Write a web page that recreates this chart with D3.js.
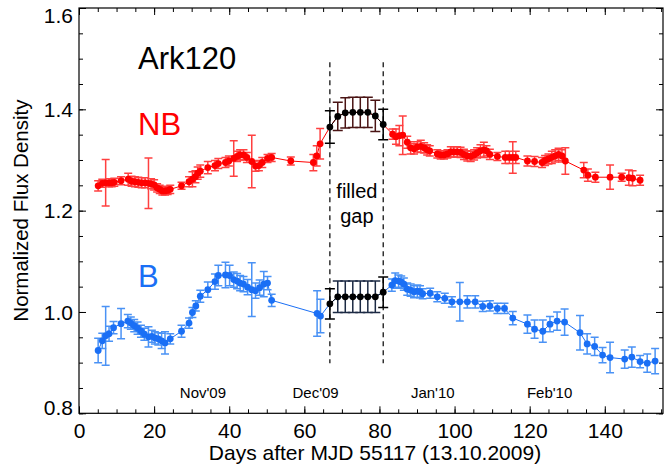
<!DOCTYPE html>
<html>
<head>
<meta charset="utf-8">
<script src="https://cdn.jsdelivr.net/npm/d3@7"></script>
<style>
  body { margin: 0; background: #fff; }
  text { font-family: "Liberation Sans", Arial, sans-serif; }
</style>
</head>
<body>
<svg id="chart" width="667" height="470"></svg>
<script>
// NB band light curve (days, flux, error)
var nbDays = [5.1, 6.2, 7.1, 8.0, 8.7, 9.4, 11.2, 13.1, 14.0, 14.9, 15.8, 16.7, 17.6, 18.5, 19.2, 20.0, 20.8, 21.5, 22.2, 22.9, 23.6, 24.3,
  27.3, 29.3, 30.2, 31.0, 31.6, 32.3, 34.3, 36.2, 37.1, 39.0, 39.9, 41.2, 42.1, 42.9, 43.8, 44.7, 46.0, 47.0, 47.9, 48.8, 50.2, 51.3,
  56.4, 62.4, 63.3, 64.2,
  83.5, 84.4, 85.3, 86.2, 87.4, 88.3, 89.2, 90.1, 91.0, 91.9, 92.7, 93.4, 95.4, 96.3, 97.2, 98.1, 99.0, 99.8, 100.7, 101.6, 102.5,
  103.4, 104.3, 105.2, 106.0, 106.9, 107.8, 108.5, 109.4, 111.4, 113.5, 114.6, 115.5, 116.3, 119.4, 121.3, 123.3, 124.1, 125.0,
  125.9, 126.8, 127.7, 128.6, 129.5, 134.4, 135.5, 137.5, 141.4, 144.5, 146.4, 147.4, 149.4];
var nbFlux = [1.249, 1.254, 1.255, 1.255, 1.255, 1.256, 1.259, 1.262, 1.258, 1.257, 1.256, 1.255, 1.255, 1.254, 1.253, 1.251, 1.245, 1.242, 1.239, 1.239, 1.240, 1.242,
  1.249, 1.257, 1.262, 1.267, 1.274, 1.278, 1.285, 1.289, 1.293, 1.295, 1.298, 1.303, 1.307, 1.310, 1.310, 1.305, 1.297, 1.288, 1.289, 1.295, 1.303, 1.305,
  1.298, 1.295, 1.308, 1.332,
  1.351, 1.346, 1.348, 1.349, 1.335, 1.324, 1.322, 1.326, 1.327, 1.324, 1.320, 1.318, 1.312, 1.310, 1.310, 1.312, 1.316, 1.316, 1.316, 1.315, 1.311,
  1.308, 1.307, 1.310, 1.314, 1.318, 1.320, 1.318, 1.311, 1.307, 1.305, 1.305, 1.305, 1.305, 1.298, 1.297, 1.295, 1.299, 1.302,
  1.305, 1.308, 1.311, 1.308, 1.298, 1.280, 1.270, 1.266, 1.266, 1.266, 1.265, 1.264, 1.260];
var nbErr = [0.010, 0.008, 0.046, 0.008, 0.008, 0.008, 0.008, 0.012, 0.010, 0.010, 0.010, 0.010, 0.010, 0.050, 0.010, 0.010, 0.008, 0.008, 0.008, 0.008, 0.008, 0.008,
  0.007, 0.010, 0.015, 0.012, 0.012, 0.012, 0.012, 0.010, 0.010, 0.010, 0.010, 0.035, 0.010, 0.010, 0.010, 0.010, 0.052, 0.010, 0.010, 0.010, 0.008, 0.008,
  0.008, 0.016, 0.020, 0.030,
  0.010, 0.015, 0.020, 0.038, 0.012, 0.012, 0.010, 0.010, 0.012, 0.010, 0.010, 0.010, 0.008, 0.008, 0.008, 0.008, 0.010, 0.010, 0.010, 0.010, 0.010,
  0.010, 0.010, 0.010, 0.010, 0.012, 0.015, 0.010, 0.010, 0.008, 0.012, 0.012, 0.031, 0.012, 0.010, 0.010, 0.010, 0.010, 0.010,
  0.012, 0.012, 0.012, 0.012, 0.026, 0.015, 0.012, 0.010, 0.024, 0.008, 0.015, 0.015, 0.010];

// B band light curve
var bDays = [5.1, 6.2, 7.1, 8.0, 9.2, 11.2, 13.0, 13.8, 14.7, 15.6, 16.5, 17.4, 18.5, 19.4, 20.2, 21.1, 22.0, 22.9, 24.3,
  27.3, 29.3, 30.2, 31.1, 32.3, 34.3, 36.2, 37.1, 39.0, 40.1, 41.2, 42.1, 42.9, 43.8, 44.9, 46.0, 47.0, 48.1, 49.2, 50.2, 51.3,
  63.4, 64.3,
  83.3, 84.2, 85.1, 85.8, 86.5, 87.4, 88.3, 89.2, 90.1, 90.8, 91.5, 93.5, 95.4, 97.4, 99.3, 101.4, 103.4, 105.5, 107.5, 109.4,
  111.4, 113.3, 115.5, 119.4, 121.3, 123.5, 125.4, 127.3, 129.3, 133.4, 135.3, 137.3, 139.4, 141.4, 145.3, 147.2, 149.4, 151.3, 153.4];
var bFlux = [0.924, 0.943, 0.953, 0.957, 0.969, 0.977, 0.982, 0.978, 0.973, 0.968, 0.962, 0.956, 0.951, 0.952, 0.949, 0.947, 0.943, 0.939, 0.947,
  0.962, 0.978, 0.999, 1.012, 1.031, 1.044, 1.060, 1.072, 1.073, 1.072, 1.064, 1.061, 1.057, 1.055, 1.049, 1.044, 1.042, 1.048, 1.055, 1.057, 1.023,
  0.997, 0.992,
  1.053, 1.062, 1.061, 1.059, 1.055, 1.045, 1.043, 1.040, 1.041, 1.040, 1.036, 1.037, 1.030, 1.027, 1.020, 1.020, 1.020, 1.020, 1.011, 1.012,
  1.007, 1.007, 0.988, 0.976, 0.966, 0.962, 0.976, 0.982, 0.980, 0.959, 0.937, 0.932, 0.915, 0.910, 0.907, 0.911, 0.902, 0.899, 0.903];
var bErr = [0.024, 0.015, 0.058, 0.015, 0.012, 0.030, 0.013, 0.012, 0.012, 0.012, 0.012, 0.012, 0.020, 0.012, 0.012, 0.012, 0.015, 0.022, 0.010,
  0.012, 0.010, 0.010, 0.010, 0.012, 0.015, 0.015, 0.020, 0.025, 0.020, 0.015, 0.015, 0.015, 0.015, 0.015, 0.053, 0.015, 0.015, 0.025, 0.013, 0.012,
  0.045, 0.033,
  0.012, 0.015, 0.012, 0.012, 0.012, 0.012, 0.012, 0.012, 0.012, 0.012, 0.010, 0.010, 0.010, 0.010, 0.010, 0.038, 0.012, 0.012, 0.010, 0.010,
  0.010, 0.010, 0.013, 0.018, 0.018, 0.022, 0.015, 0.018, 0.026, 0.034, 0.020, 0.018, 0.015, 0.030, 0.018, 0.020, 0.012, 0.018, 0.025];

// filled gap (black points)
var gapDays = [66.8, 68.9, 70.9, 72.9, 74.9, 76.9, 78.9, 81.0];
var gapNB = [1.365, 1.386, 1.393, 1.394, 1.394, 1.394, 1.387, 1.370];
var gapNBErr = [0.032, 0.028, 0.030, 0.030, 0.030, 0.030, 0.031, 0.030];
var gapB = [1.016, 1.030, 1.030, 1.030, 1.030, 1.030, 1.030, 1.039];
var gapBErr = [0.030, 0.031, 0.031, 0.031, 0.031, 0.031, 0.031, 0.030];
var gapBounds = [66.8, 81.0];
var gapLineRange = [0.899, 1.493];

// month markers
var monthNames = ["Nov'09", "Dec'09", "Jan'10", "Feb'10"];
var monthDays = [33, 63, 94.2, 125.3];

var xTicks = [0, 20, 40, 60, 80, 100, 120, 140];
var yTicks = [0.8, 1.0, 1.2, 1.4, 1.6];

var svg = d3.select("#chart");
var red = "#ff0000", redBar = "#ff4040";
var blue = "#1a6ff5", blueBar = "#4a92f5";

// set the ranges
var x = d3.scaleLinear().domain([0, 155.5]).range([79, 663]);
var y = d3.scaleLinear().domain([0.8, 1.6]).range([413.3, 8]);

function zip(days, vals, errs) {
    return days.map(function(d, i) { return {d: d, v: vals[i], e: errs[i]}; });
}
var nb = zip(nbDays, nbFlux, nbErr);
var bb = zip(bDays, bFlux, bErr);
var gnb = zip(gapDays, gapNB, gapNBErr);
var gb = zip(gapDays, gapB, gapBErr);

// dashed lines of the gap
svg.selectAll(".gapline")
    .data(gapBounds)
  .enter().append("line")
    .attr("x1", function(d) { return x(d); })
    .attr("x2", function(d) { return x(d); })
    .attr("y1", y(gapLineRange[1]))
    .attr("y2", y(gapLineRange[0]))
    .attr("stroke", "#000")
    .attr("stroke-width", 1.2)
    .attr("stroke-dasharray", "5,4");

var line = d3.line()
    .x(function(d) { return x(d.d); })
    .y(function(d) { return y(d.v); });

function drawSeries(data, color, barColor, capW, r) {
    var g = svg.append("g");
    g.selectAll(".eb")
        .data(data)
      .enter().append("path")
        .attr("d", function(d) {
            var cx = x(d.d), t = y(d.v + d.e), b = y(d.v - d.e);
            return "M" + cx + "," + t + "V" + b +
                   "M" + (cx - capW) + "," + t + "H" + (cx + capW) +
                   "M" + (cx - capW) + "," + b + "H" + (cx + capW);
        })
        .attr("fill", "none")
        .attr("stroke", function(d, i) { return typeof barColor === "function" ? barColor(d, i) : barColor; })
        .attr("stroke-width", 1.5);
    g.selectAll("circle")
        .data(data)
      .enter().append("circle")
        .attr("cx", function(d) { return x(d.d); })
        .attr("cy", function(d) { return y(d.v); })
        .attr("r", r)
        .attr("fill", color);
}

// full connecting lines through the gap
var nbAll = nb.slice(0, 48).concat(gnb).concat(nb.slice(48));
var bAll = bb.slice(0, 42).concat(gb).concat(bb.slice(42));
svg.append("path").attr("d", line(nbAll)).attr("fill", "none").attr("stroke", red).attr("stroke-width", 1);
svg.append("path").attr("d", line(bAll)).attr("fill", "none").attr("stroke", blue).attr("stroke-width", 1);

drawSeries(nb, red, redBar, 4, 3.4);
drawSeries(bb, blue, blueBar, 4, 3.4);

// gap points on top
svg.append("path").attr("d", line(gnb)).attr("fill", "none").attr("stroke", "#000").attr("stroke-width", 1);
svg.append("path").attr("d", line(gb)).attr("fill", "none").attr("stroke", "#000").attr("stroke-width", 1);
drawSeries(gnb, "#000", function(d, i) { return (i === 0 || i === gapDays.length - 1) ? "#000" : "#4a1414"; }, 5, 3.4);
drawSeries(gb, "#000", function(d, i) { return (i === 0 || i === gapDays.length - 1) ? "#000" : "#1c2a44"; }, 5, 3.4);

// axes with inward ticks
function styleAxis(g) {
    g.select(".domain").remove();
    g.selectAll("line").attr("stroke", "#000").attr("stroke-width", 1);
    g.selectAll("text").attr("font-size", 21).attr("fill", "#000")
        .style("font-family", '"Liberation Sans", Arial, sans-serif');
}
var minorX = d3.range(0, 156, 5), minorY = d3.range(0.8, 1.601, 0.05);

svg.append("g").attr("transform", "translate(0,413.3)")
    .call(d3.axisBottom(x).tickValues(xTicks).tickSize(-7).tickPadding(10).tickFormat(d3.format("d")))
    .call(styleAxis);
svg.append("g").attr("transform", "translate(0,413.3)")
    .call(d3.axisBottom(x).tickValues(minorX).tickSize(-4).tickFormat(""))
    .call(styleAxis);
svg.append("g").attr("transform", "translate(0,8)")
    .call(d3.axisTop(x).tickValues(xTicks).tickSize(-7).tickFormat(""))
    .call(styleAxis);
svg.append("g").attr("transform", "translate(0,8)")
    .call(d3.axisTop(x).tickValues(minorX).tickSize(-4).tickFormat(""))
    .call(styleAxis);

var yAxis = svg.append("g").attr("transform", "translate(79,0)")
    .call(d3.axisLeft(y).tickValues(yTicks).tickSize(-7).tickPadding(6).tickFormat(d3.format(".1f")))
    .call(styleAxis);
// keep the end labels inside the frame like the original
yAxis.selectAll(".tick text").attr("dy", function(d) {
    if (d === 1.6) return "0.7em";
    if (d === 0.8) return "0.05em";
    return "0.34em";
});
svg.append("g").attr("transform", "translate(79,0)")
    .call(d3.axisLeft(y).tickValues(minorY).tickSize(-4).tickFormat(""))
    .call(styleAxis);
svg.append("g").attr("transform", "translate(663,0)")
    .call(d3.axisRight(y).tickValues(yTicks).tickSize(-7).tickFormat(""))
    .call(styleAxis);
svg.append("g").attr("transform", "translate(663,0)")
    .call(d3.axisRight(y).tickValues(minorY).tickSize(-4).tickFormat(""))
    .call(styleAxis);

// frame
svg.append("rect")
    .attr("x", 79).attr("y", 8)
    .attr("width", 663 - 79).attr("height", 413.3 - 8)
    .attr("fill", "none").attr("stroke", "#000").attr("stroke-width", 1.2);

// axis titles
svg.append("text")
    .attr("x", 375).attr("y", 460)
    .attr("text-anchor", "middle").attr("font-size", 21)
    .text("Days after MJD 55117 (13.10.2009)");
svg.append("text")
    .attr("transform", "translate(28,210.6) rotate(-90)")
    .attr("text-anchor", "middle").attr("font-size", 20.5)
    .text("Normalized Flux Density");

// month labels
svg.selectAll(".month")
    .data(monthNames)
  .enter().append("text")
    .attr("x", function(d, i) { return x(monthDays[i]); })
    .attr("y", 398)
    .attr("text-anchor", "middle")
    .attr("font-size", 15)
    .text(function(d) { return d; });

// annotations
svg.append("text").attr("x", 138).attr("y", 69).attr("font-size", 31).text("Ark120");
svg.append("text").attr("x", 138).attr("y", 135).attr("font-size", 31).attr("fill", red).text("NB");
svg.append("text").attr("x", 138).attr("y", 287).attr("font-size", 31).attr("fill", blue).text("B");
svg.append("text").attr("x", x(74)).attr("y", 198).attr("text-anchor", "middle").attr("font-size", 20).text("filled");
svg.append("text").attr("x", x(74)).attr("y", 223).attr("text-anchor", "middle").attr("font-size", 20).text("gap");
</script>
</body>
</html>
